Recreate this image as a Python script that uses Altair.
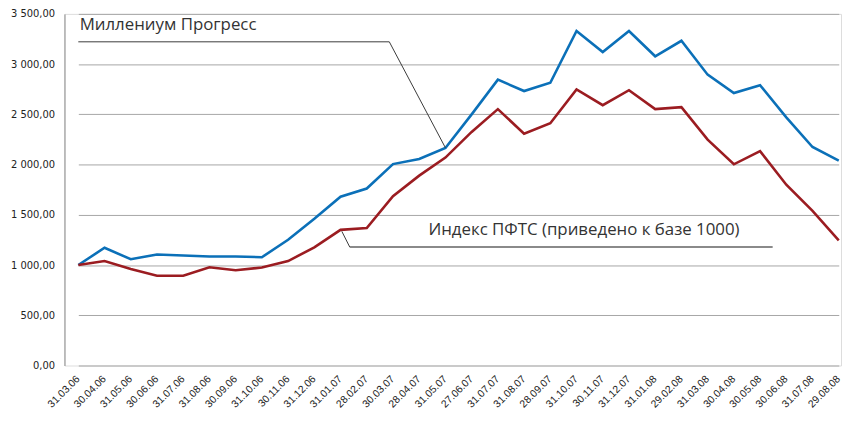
import altair as alt
import pandas as pd

dates = ["31.03.06", "30.04.06", "31.05.06", "30.06.06", "31.07.06", "31.08.06",
         "30.09.06", "31.10.06", "30.11.06", "31.12.06", "31.01.07", "28.02.07",
         "30.03.07", "28.04.07", "31.05.07", "27.06.07", "31.07.07", "31.08.07",
         "28.09.07", "31.10.07", "30.11.07", "31.12.07", "31.01.08", "29.02.08",
         "31.03.08", "30.04.08", "30.05.08", "30.06.08", "31.07.08", "29.08.08"]

millennium = [1000, 1172, 1058, 1105, 1095, 1085, 1085, 1078, 1252, 1460,
              1680, 1762, 2005, 2055, 2165, 2500, 2845, 2732, 2814, 3330,
              3120, 3330, 3078, 3232, 2895, 2712, 2790, 2470, 2175, 2040]

pfts = [1000, 1040, 960, 893, 893, 978, 948, 975, 1040, 1176,
        1350, 1368, 1686, 1890, 2070, 2325, 2552, 2307, 2412, 2748,
        2591, 2740, 2552, 2572, 2248, 2003, 2134, 1800, 1540, 1245]

series_names = ["Миллениум Прогресс", "Индекс ПФТС (приведено к базе 1000)"]
series_colors = ["#0b70b8", "#9b1c21"]
y_ticks = [0, 500, 1000, 1500, 2000, 2500, 3000, 3500]

# annotation leader lines (data space)
lead1_idx = [0, 11.86, 14]
lead1_val = [3222, 3222, 2167]
lead2_idx = [10.35, 26.48]
lead2_val = [1180, 1180]
conn2_idx = [10.05, 10.35]
conn2_val = [1335, 1180]
label1_pos = (0.05, 3385)
label2_pos = (13.35, 1352)

rows = []
for i, d in enumerate(dates):
    rows.append({"idx": i, "date": d, "value": millennium[i], "series": series_names[0]})
    rows.append({"idx": i, "date": d, "value": pfts[i], "series": series_names[1]})
df = pd.DataFrame(rows)

label_expr = "[" + ",".join("'%s'" % d for d in dates) + "][datum.value]"
num_expr = "replace(replace(format(datum.value, ',.2f'), ',', ' '), '.', ',')"

xscale = alt.Scale(domain=[0, len(dates) - 1], range=[14, 781.7], nice=False, zero=False)
yscale = alt.Scale(domain=[0, 3500], nice=False)

x_enc = alt.X("idx:Q", scale=xscale,
              axis=alt.Axis(values=list(range(len(dates))), labelExpr=label_expr,
                            labelAngle=-45, grid=False, ticks=False, domain=False,
                            labelFont="Liberation Sans", labelFontSize=10.5, labelColor="#222222",
                            labelPadding=8, labelOffset=-4, title=None,
                            labelOverlap=False, labelBound=False))
y_enc = alt.Y("value:Q", scale=yscale,
              axis=alt.Axis(values=y_ticks, labelExpr=num_expr, grid=True,
                            gridColor="#a6a6a6", gridWidth=1, ticks=False,
                            domain=True, domainColor="#8c8c8c", domainWidth=1,
                            labelFont="DejaVu Sans", labelFontSize=10, labelColor="#222222",
                            labelPadding=10, title=None))

lines = alt.Chart(df).mark_line(strokeWidth=2.6, strokeJoin="miter").encode(
    x=x_enc, y=y_enc,
    color=alt.Color("series:N", scale=alt.Scale(domain=series_names, range=series_colors), legend=None),
    order="idx:Q",
)

l1 = pd.DataFrame({"idx": lead1_idx, "value": lead1_val, "o": list(range(len(lead1_idx)))})
lead1 = alt.Chart(l1).mark_line(color="#3a3a3a", strokeWidth=1).encode(
    x=x_enc, y=y_enc, order="o:Q")

l2 = pd.DataFrame({"idx": lead2_idx, "value": lead2_val})
lead2 = alt.Chart(l2).mark_line(color="#8a8a8a", strokeWidth=2).encode(
    x=x_enc, y=y_enc)

c2 = pd.DataFrame({"idx": conn2_idx, "value": conn2_val})
conn2 = alt.Chart(c2).mark_line(color="#3a3a3a", strokeWidth=1).encode(
    x=x_enc, y=y_enc)

t = pd.DataFrame({"idx": [label1_pos[0], label2_pos[0]],
                  "value": [label1_pos[1], label2_pos[1]],
                  "text": series_names})
texts = alt.Chart(t).mark_text(align="left", baseline="middle", font="Open Sans",
                               fontSize=17, color="#333333").encode(
    x=x_enc, y=y_enc, text="text:N")

chart = alt.layer(lines, lead1, lead2, conn2, texts).properties(
    width=784, height=355,
    padding={"left": 57, "top": 4, "right": 2, "bottom": 46},
    autosize=alt.AutoSizeParams(type="none"),
).configure_view(stroke=None).configure_axisX(labelOverlap=False).configure(background="white")

chart.save("out.html", embed_options={"renderer": "svg", "actions": False})
